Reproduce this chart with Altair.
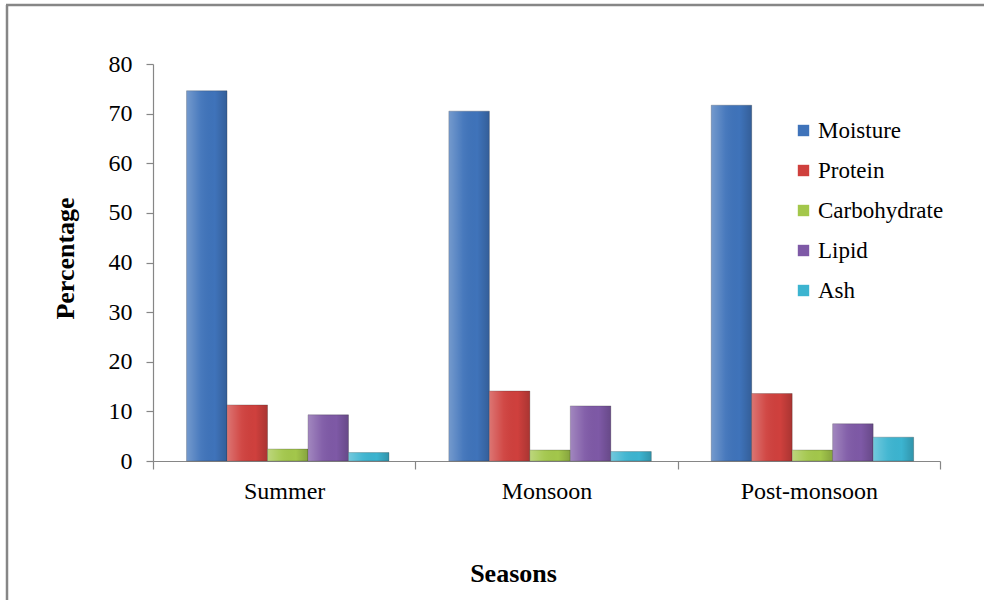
import altair as alt
import pandas as pd

seasons = ["Summer", "Monsoon", "Post-monsoon"]
components = ["Moisture", "Protein", "Carbohydrate", "Lipid", "Ash"]
moisture = [74.6, 70.5, 71.7]
protein = [11.3, 14.1, 13.6]
carbohydrate = [2.4, 2.2, 2.2]
lipid = [9.3, 11.1, 7.5]
ash = [1.7, 1.9, 4.8]
colors = ["#3F73BA", "#CF403D", "#A3C74B", "#7E59A6", "#3CB4D0"]
y_ticks = [0, 10, 20, 30, 40, 50, 60, 70, 80]

rows = []
for comp, vals in zip(components, [moisture, protein, carbohydrate, lipid, ash]):
    for s, v in zip(seasons, vals):
        rows.append({"Season": s, "Component": comp, "Value": v})
df = pd.DataFrame(rows)

W, H = 787, 397
FONT = "Liberation Serif"
GRAY = "#868686"

x_enc = alt.X(
    "Season:N",
    sort=seasons,
    scale=alt.Scale(paddingInner=0, paddingOuter=0),
    axis=alt.Axis(
        title="Seasons", labelAngle=0, tickBand="extent", tickSize=8,
        labelPadding=10, labelFontSize=24, labelFont=FONT, labelColor="#000",
        titleFont=FONT, titleFontSize=26, titleFontWeight="bold", titleColor="#000",
        titleX=360, titleY=112, titleBaseline="middle",
        domainColor=GRAY, tickColor=GRAY, domainWidth=1.2, tickWidth=1.2,
    ),
)
y_enc = alt.Y(
    "Value:Q",
    scale=alt.Scale(domain=[0, 80], nice=False),
    axis=alt.Axis(
        title="Percentage", values=y_ticks, grid=False, tickSize=7, labelPadding=14,
        labelFontSize=24, labelFont=FONT, labelColor="#000",
        titleFont=FONT, titleFontSize=26, titleFontWeight="bold", titleColor="#000",
        titleX=-88, titleY=194, titleBaseline="middle", titleAlign="center",
        domainColor=GRAY, tickColor=GRAY, domainWidth=1.2, tickWidth=1.2,
    ),
)
xoff = alt.XOffset(
    "Component:N", sort=components,
    scale=alt.Scale(paddingInner=0, paddingOuter=0.74, align=0.56),
)

base = alt.Chart(df).mark_bar(stroke="#2a2a2a", strokeOpacity=0.25, strokeWidth=1).encode(
    x=x_enc,
    xOffset=xoff,
    y=y_enc,
    color=alt.Color(
        "Component:N",
        sort=components,
        scale=alt.Scale(domain=components, range=colors),
        legend=alt.Legend(
            title=None, orient="none", legendX=639, legendY=55,
            symbolType="square", symbolSize=130, symbolStrokeWidth=0,
            labelFont=FONT, labelFontSize=23, labelColor="#000",
            rowPadding=16, labelOffset=3,
        ),
    ),
)

shade = alt.Chart(df).mark_bar(
    fill=alt.Gradient(
        gradient="linear", x1=0, x2=1, y1=0, y2=0,
        stops=[
            alt.GradientStop(color="rgba(255,255,255,0.28)", offset=0),
            alt.GradientStop(color="rgba(255,255,255,0.05)", offset=0.35),
            alt.GradientStop(color="rgba(0,0,0,0.0)", offset=0.7),
            alt.GradientStop(color="rgba(0,0,0,0.18)", offset=1),
        ],
    )
).encode(x=x_enc, xOffset=xoff, y=y_enc)

frame_df = pd.DataFrame({"k": [0]})
left_line = alt.Chart(frame_df).mark_rule(color=GRAY, strokeWidth=2.5).encode(
    x=alt.value(-146), y=alt.value(-59), y2=alt.value(H + 150)
)
top_line = alt.Chart(frame_df).mark_rule(color=GRAY, strokeWidth=2.5).encode(
    x=alt.value(-147), x2=alt.value(840), y=alt.value(-59)
)

chart = alt.layer(base, shade, left_line, top_line).properties(
    width=W, height=H,
    autosize=alt.AutoSizeParams(type="none"),
    padding={"left": 153, "top": 64, "right": 44, "bottom": 139},
).configure(
    background="white",
    font=FONT,
    view=alt.ViewConfig(stroke=None),
)

chart.save("out.html", embed_options={"renderer": "svg", "actions": False})
